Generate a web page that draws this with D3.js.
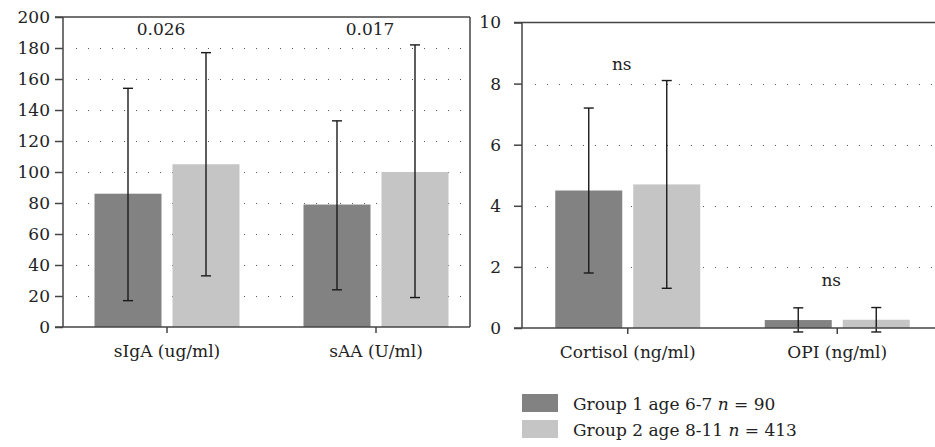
<!DOCTYPE html>
<html>
<head>
<meta charset="utf-8">
<script src="https://cdn.jsdelivr.net/npm/d3@7"></script>
<style>
  body { margin: 0; background: #fff; }
</style>
</head>
<body>
<svg width="935" height="447"></svg>
<script>
(function () {

	// data
	var leftCategories = ['sIgA (ug/ml)', 'sAA (U/ml)'];
	var leftMeans = [[86, 105], [79, 100]];
	var leftErrTop = [[154, 177], [133, 182]];
	var leftErrBottom = [[17, 33], [24, 19]];
	var leftNotes = ['0.026', '0.017'];
	var leftTicks = [0, 20, 40, 60, 80, 100, 120, 140, 160, 180, 200];

	var rightCategories = ['Cortisol (ng/ml)', 'OPI (ng/ml)'];
	var rightMeans = [[4.5, 4.7], [0.26, 0.27]];
	var rightErrTop = [[7.2, 8.1], [0.66, 0.67]];
	var rightErrBottom = [[1.8, 1.3], [-0.13, -0.13]];
	var rightNotes = ['ns', 'ns'];
	var rightTicks = [0, 2, 4, 6, 8, 10];

	var groups = ['Group 1 age 6-7', 'Group 2 age 8-11'];
	var groupN = [90, 413];
	var colors = ['#828282', '#c4c5c4'];

	var FONT = 'DejaVu Serif, serif';
	var FS = 17;
	var svg = d3.select('svg').attr('font-family', FONT);

	function panel(opt) {
		var g = svg.append('g');
		var y = d3.scaleLinear().domain(opt.domain).range([opt.bottom, opt.top]);
		var x = d3.scaleBand().domain(opt.categories).range(opt.band);
		var xs = d3.scaleBand().domain([0, 1]).range([0, 145]).paddingInner(0.141);

		// dotted grid
		g.selectAll('line.grid')
			.data(opt.ticks.slice(1, -1))
			.enter().append('line')
			.attr('x1', opt.left + 13).attr('x2', opt.right - 4)
			.attr('y1', function (d) { return Math.round(y(d)) + 0.5; })
			.attr('y2', function (d) { return Math.round(y(d)) + 0.5; })
			.attr('stroke', '#555')
			.attr('stroke-width', 1)
			.attr('stroke-dasharray', '1,11');

		var cat = g.selectAll('g.cat')
			.data(opt.categories)
			.enter().append('g')
			.attr('transform', function (d) {
				return 'translate(' + (x(d) + x.bandwidth() / 2 - 72.5) + ',0)';
			});

		cat.selectAll('rect')
			.data(function (d, i) { return [0, 1].map(function (k) { return {k: k, i: i}; }); })
			.enter().append('rect')
			.attr('x', function (d) { return xs(d.k); })
			.attr('width', xs.bandwidth())
			.attr('y', function (d) { return y(opt.means[d.i][d.k]); })
			.attr('height', function (d) { return y(0) - y(opt.means[d.i][d.k]); })
			.attr('fill', function (d) { return colors[d.k]; });

		var err = cat.selectAll('g.err')
			.data(function (d, i) { return [0, 1].map(function (k) { return {k: k, i: i}; }); })
			.enter().append('g')
			.attr('stroke', '#1a1a1a')
			.attr('stroke-width', 1.4);
		function cx(d) { return xs(d.k) + xs.bandwidth() / 2; }
		err.append('line')
			.attr('x1', cx).attr('x2', cx)
			.attr('y1', function (d) { return y(opt.errTop[d.i][d.k]); })
			.attr('y2', function (d) { return y(opt.errBottom[d.i][d.k]); });
		err.append('line')
			.attr('x1', function (d) { return cx(d) - 5; })
			.attr('x2', function (d) { return cx(d) + 5; })
			.attr('y1', function (d) { return y(opt.errTop[d.i][d.k]); })
			.attr('y2', function (d) { return y(opt.errTop[d.i][d.k]); });
		err.append('line')
			.attr('x1', function (d) { return cx(d) - 5; })
			.attr('x2', function (d) { return cx(d) + 5; })
			.attr('y1', function (d) { return y(opt.errBottom[d.i][d.k]); })
			.attr('y2', function (d) { return y(opt.errBottom[d.i][d.k]); });

		// notes above bars
		g.selectAll('text.note')
			.data(opt.notes)
			.enter().append('text')
			.attr('x', function (d, i) { return x(opt.categories[i]) + x.bandwidth() / 2 - 6; })
			.attr('y', function (d, i) { return opt.noteY[i]; })
			.attr('text-anchor', 'middle')
			.attr('font-size', FS)
			.attr('fill', '#222')
			.text(function (d) { return d; });

		// y axis
		var yAxis = g.append('g')
			.attr('transform', 'translate(' + opt.left + ',0)')
			.call(d3.axisLeft(y).tickValues(opt.ticks).tickSize(8).tickPadding(opt.yPad))
			.attr('font-family', FONT).attr('font-size', FS);
		yAxis.select('.domain').remove();
		yAxis.selectAll('line').attr('stroke', '#444').attr('stroke-width', 1.5);
		yAxis.selectAll('text').attr('fill', '#222');
		g.append('line')
			.attr('x1', opt.left).attr('x2', opt.left)
			.attr('y1', opt.top).attr('y2', opt.bottom)
			.attr('stroke', '#444').attr('stroke-width', 1.5);

		// x axis
		var xAxis = g.append('g')
			.attr('transform', 'translate(0,' + opt.bottom + ')')
			.call(d3.axisBottom(x).tickSize(6).tickPadding(12))
			.attr('font-family', FONT).attr('font-size', FS);
		xAxis.select('.domain').remove();
		xAxis.selectAll('line').attr('stroke', '#444').attr('stroke-width', 1.5);
		xAxis.selectAll('text').attr('fill', '#222');
		g.append('line')
			.attr('x1', opt.left - 8).attr('x2', opt.right)
			.attr('y1', opt.bottom).attr('y2', opt.bottom)
			.attr('stroke', '#444').attr('stroke-width', 1.5);

		// frame top / right
		g.append('line')
			.attr('x1', opt.left - 8).attr('x2', opt.right)
			.attr('y1', opt.top).attr('y2', opt.top)
			.attr('stroke', '#444').attr('stroke-width', 1.5);
		if (opt.rightBorder) {
			g.append('line')
				.attr('x1', opt.right).attr('x2', opt.right)
				.attr('y1', opt.top).attr('y2', opt.bottom)
				.attr('stroke', '#444').attr('stroke-width', 1.5);
		}
	}

	panel({
		categories: leftCategories, means: leftMeans, errTop: leftErrTop,
		errBottom: leftErrBottom, notes: leftNotes, ticks: leftTicks,
		domain: [0, 200], left: 63, right: 470, top: 17, bottom: 327,
		band: [62.5, 480.5], noteY: [35, 35], yPad: 5, rightBorder: true
	});

	panel({
		categories: rightCategories, means: rightMeans, errTop: rightErrTop,
		errBottom: rightErrBottom, notes: rightNotes, ticks: rightTicks,
		domain: [0, 10], left: 522, right: 944, top: 22.5, bottom: 328,
		band: [523, 942], noteY: [70, 286], yPad: 13, rightBorder: false
	});

	// legend
	var legend = svg.append('g').attr('transform', 'translate(522,394)');
	var item = legend.selectAll('g')
		.data(groups)
		.enter().append('g')
		.attr('transform', function (d, i) { return 'translate(0,' + (i * 26) + ')'; });
	item.append('rect')
		.attr('width', 36).attr('height', 18)
		.attr('fill', function (d, i) { return colors[i]; });
	var t = item.append('text')
		.attr('x', 51).attr('y', 16)
		.attr('font-size', FS)
		.attr('fill', '#222');
	t.append('tspan').text(function (d) { return d + ' '; });
	t.append('tspan').attr('font-style', 'italic').text('n');
	t.append('tspan').text(function (d, i) { return ' = ' + groupN[i]; });

})();
</script>
</body>
</html>
